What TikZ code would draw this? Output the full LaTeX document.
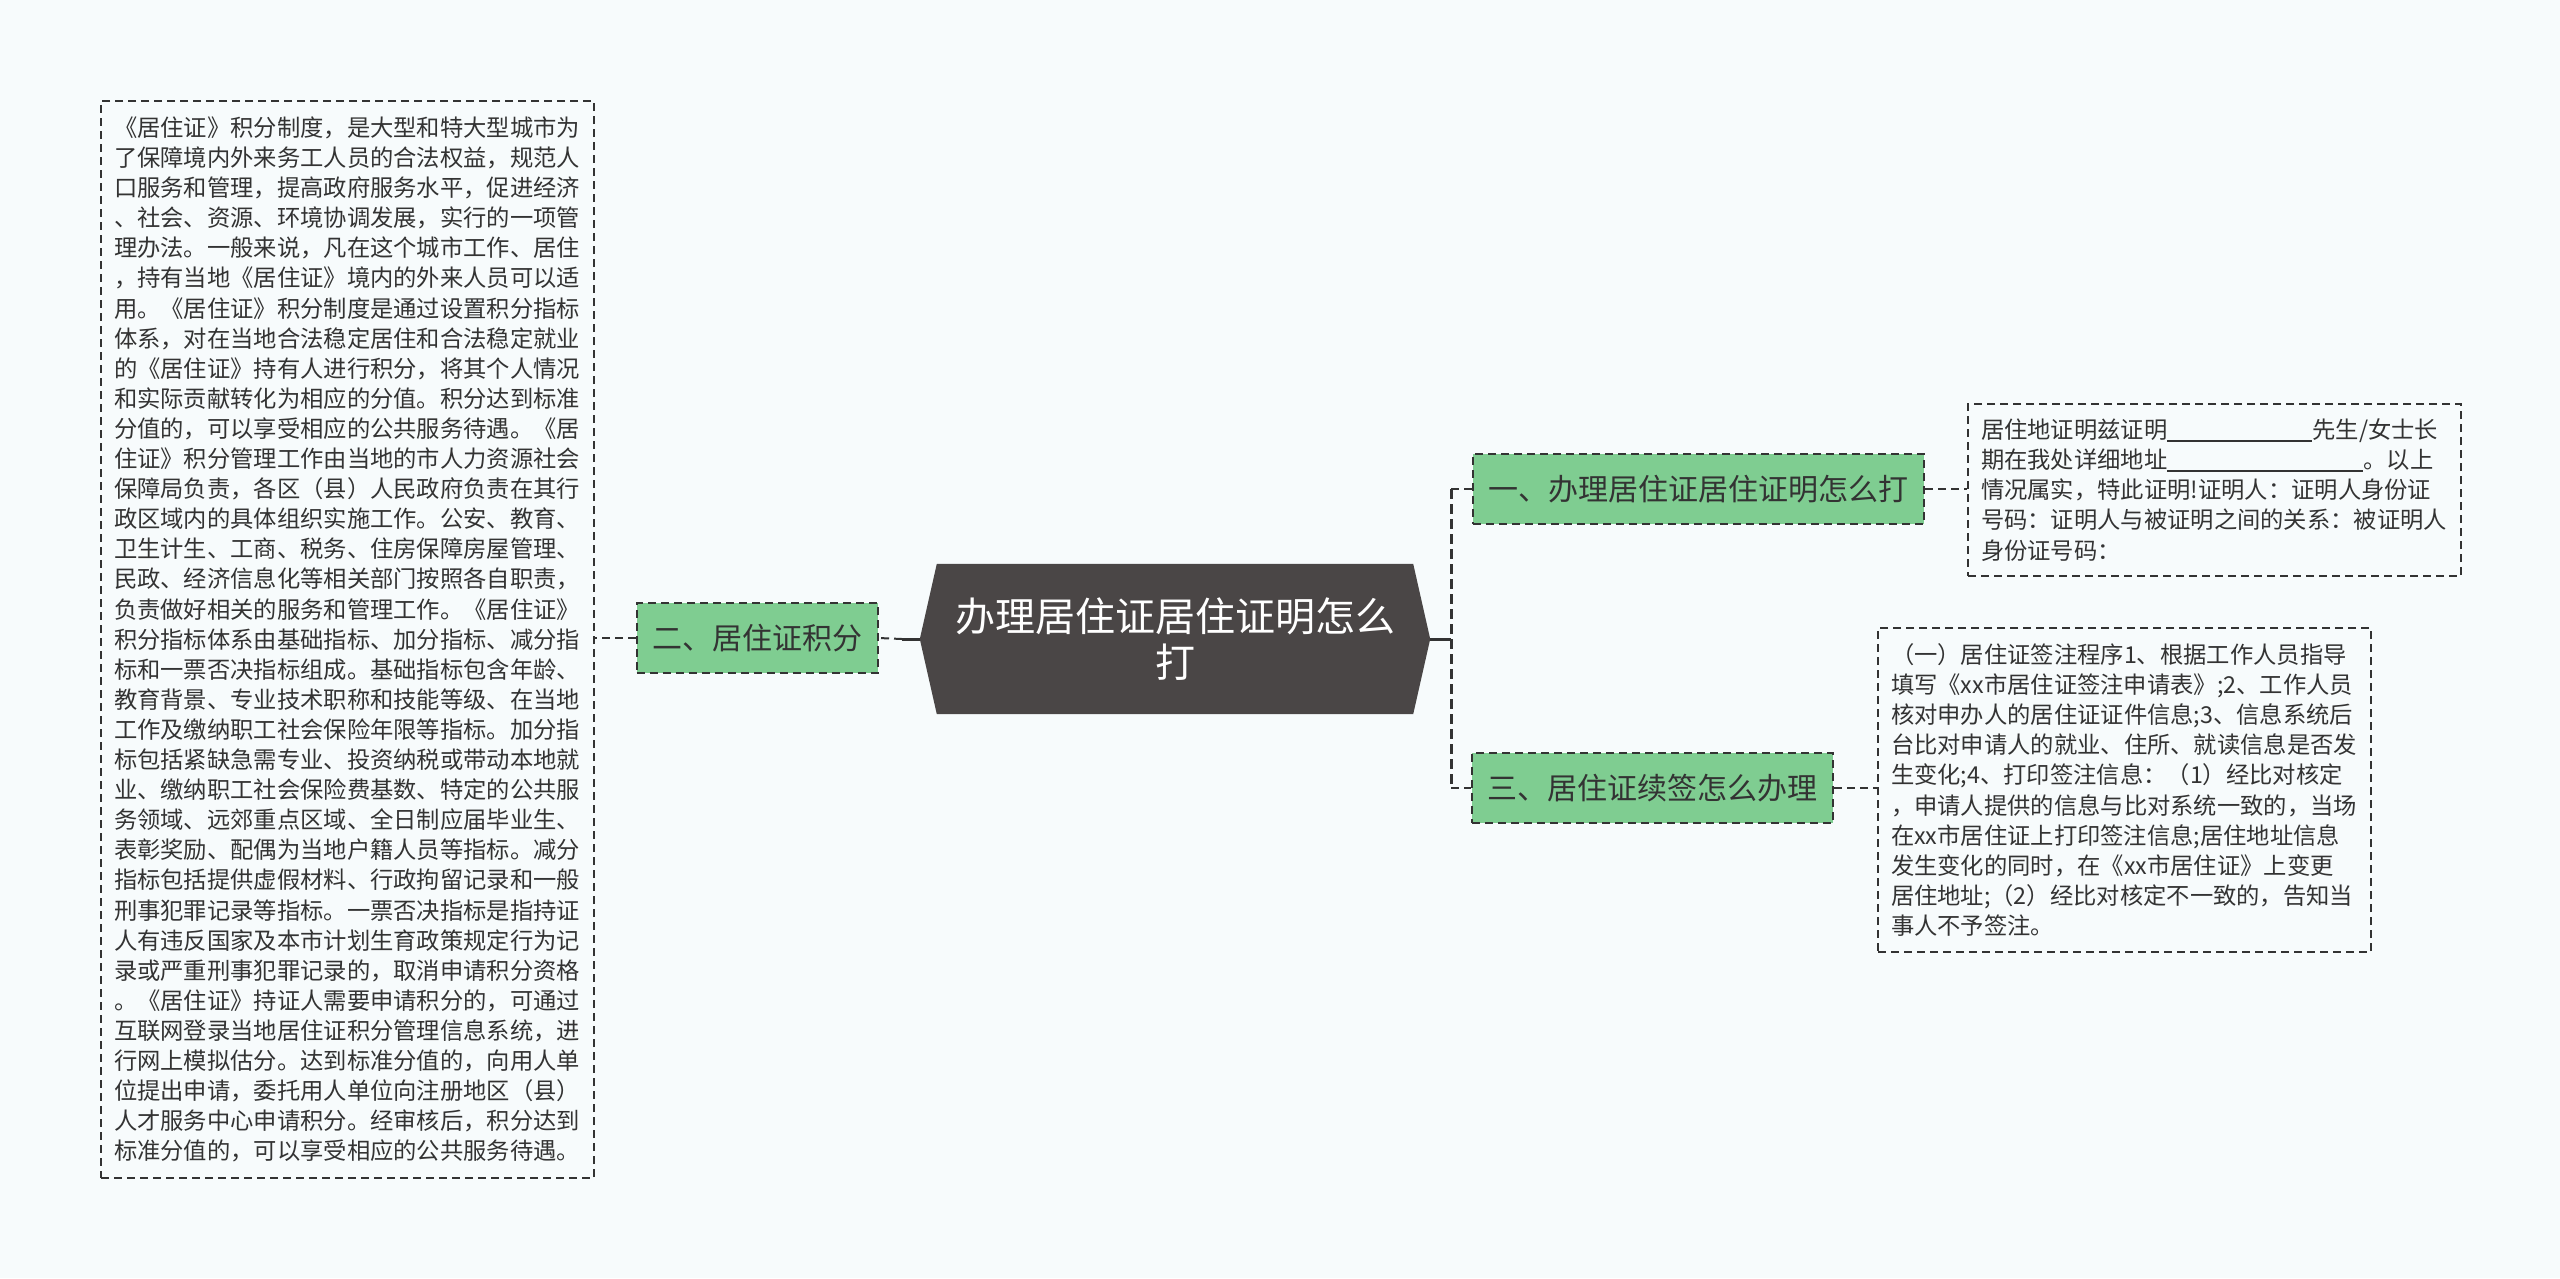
\documentclass[tikz,border=0pt]{standalone}
\usepackage{fontspec}
\newfontfamily\cjk{Noto Sans CJK SC}
\usetikzlibrary{backgrounds}
\definecolor{pagebg}{HTML}{F7FBFC}
\definecolor{leaf}{HTML}{7FCD91}
\definecolor{rootc}{HTML}{4A4646}
\definecolor{ink}{HTML}{333333}
\newcommand\myblank[1]{\rule[-3pt]{#1}{1.3pt}}
\tikzset{
 textbox/.style={draw=ink, line width=2pt, dash pattern=on 8pt off 5pt, text=ink,
   font=\cjk\fontsize{23.3}{30.1}\selectfont, align=left, text width=467pt,
   inner xsep=13pt, inner ysep=0pt, minimum width=493pt, anchor=north west},
 topic/.style={fill=leaf, draw=ink, line width=2pt, dash pattern=on 8pt off 5pt, text=ink,
   font=\cjk\fontsize{30}{36}\selectfont, inner xsep=15.5pt, inner ysep=0pt, minimum height=70pt},
 rootnode/.style={text=white, font=\cjk\fontsize{40}{46}\selectfont, align=center,
   minimum width=510pt, minimum height=150pt, inner sep=0pt},
 stub/.style={draw=ink, line width=3pt},
 dconn/.style={draw=ink, line width=2pt, dash pattern=on 8pt off 5pt},
 vconn/.style={draw=ink, line width=3pt, dash pattern=on 10pt off 5pt},
}
\begin{document}
\begin{tikzpicture}[x=1pt,y=-1pt]
\useasboundingbox (0,0) rectangle (2560,1278);
\node[rootnode] (root) at (1175,639) {办理居住证居住证明怎么\\打};
\begin{scope}[on background layer]
\fill[pagebg] (0,0) rectangle (2560,1278);
\fill[rootc] ([xshift=17pt]root.north west) -- ([xshift=-17pt]root.north east) -- (root.east)
  -- ([xshift=-17pt]root.south east) -- ([xshift=17pt]root.south west) -- (root.west) -- cycle;
\end{scope}

\node[topic] (n2) at (757,638) {二、居住证积分};
\node[topic] (n1) at (1698.5,489) {一、办理居住证居住证明怎么打};
\node[topic] (n3) at (1652.5,788) {三、居住证续签怎么办理};

\node[textbox, minimum height=1077pt] (t2) at (100,100) {《居住证》积分制度，是大型和特大型城市为\\
了保障境内外来务工人员的合法权益，规范人\\
口服务和管理，提高政府服务水平，促进经济\\
、社会、资源、环境协调发展，实行的一项管\\
理办法。一般来说，凡在这个城市工作、居住\\
，持有当地《居住证》境内的外来人员可以适\\
用。《居住证》积分制度是通过设置积分指标\\
体系，对在当地合法稳定居住和合法稳定就业\\
的《居住证》持有人进行积分，将其个人情况\\
和实际贡献转化为相应的分值。积分达到标准\\
分值的，可以享受相应的公共服务待遇。《居\\
住证》积分管理工作由当地的市人力资源社会\\
保障局负责，各区（县）人民政府负责在其行\\
政区域内的具体组织实施工作。公安、教育、\\
卫生计生、工商、税务、住房保障房屋管理、\\
民政、经济信息化等相关部门按照各自职责，\\
负责做好相关的服务和管理工作。《居住证》\\
积分指标体系由基础指标、加分指标、减分指\\
标和一票否决指标组成。基础指标包含年龄、\\
教育背景、专业技术职称和技能等级、在当地\\
工作及缴纳职工社会保险年限等指标。加分指\\
标包括紧缺急需专业、投资纳税或带动本地就\\
业、缴纳职工社会保险费基数、特定的公共服\\
务领域、远郊重点区域、全日制应届毕业生、\\
表彰奖励、配偶为当地户籍人员等指标。减分\\
指标包括提供虚假材料、行政拘留记录和一般\\
刑事犯罪记录等指标。一票否决指标是指持证\\
人有违反国家及本市计划生育政策规定行为记\\
录或严重刑事犯罪记录的，取消申请积分资格\\
。《居住证》持证人需要申请积分的，可通过\\
互联网登录当地居住证积分管理信息系统，进\\
行网上模拟估分。达到标准分值的，向用人单\\
位提出申请，委托用人单位向注册地区（县）\\
人才服务中心申请积分。经审核后，积分达到\\
标准分值的，可以享受相应的公共服务待遇。};

\node[textbox, minimum height=172pt] (t1) at (1967,403) {居住地证明兹证明\myblank{145pt}先生/女士长\\
期在我处详细地址\myblank{196pt}。以上\\
情况属实，特此证明!证明人：证明人身份证\\
号码：证明人与被证明之间的关系：被证明人\\
身份证号码：};

\node[textbox, minimum height=324pt] (t3) at (1877,627) {（一）居住证签注程序1、根据工作人员指导\\
填写《xx市居住证签注申请表》;2、工作人员\\
核对申办人的居住证证件信息;3、信息系统后\\
台比对申请人的就业、住所、就读信息是否发\\
生变化;4、打印签注信息：（1）经比对核定\\
，申请人提供的信息与比对系统一致的，当场\\
在xx市居住证上打印签注信息;居住地址信息\\
发生变化的同时，在《xx市居住证》上变更\\
居住地址;（2）经比对核定不一致的，告知当\\
事人不予签注。};

\coordinate (lj) at (902,639);
\draw[stub] (root.west) -- (lj);
\draw[dconn] (lj) -- (n2.east);
\draw[dconn] (n2.west) -- (n2.west -| t2.east);
\coordinate (rj) at (1451,639);
\draw[stub] (root.east) -- (rj);
\draw[vconn] (rj |- n1.west) -- (rj |- n3.west);
\draw[dconn] (rj |- n1.west) -- (n1.west);
\draw[dconn] (rj |- n3.west) -- (n3.west);
\draw[dconn] (n1.east) -- (n1.east -| t1.west);
\draw[dconn] (n3.east) -- (n3.east -| t3.west);
\end{tikzpicture}
\end{document}
